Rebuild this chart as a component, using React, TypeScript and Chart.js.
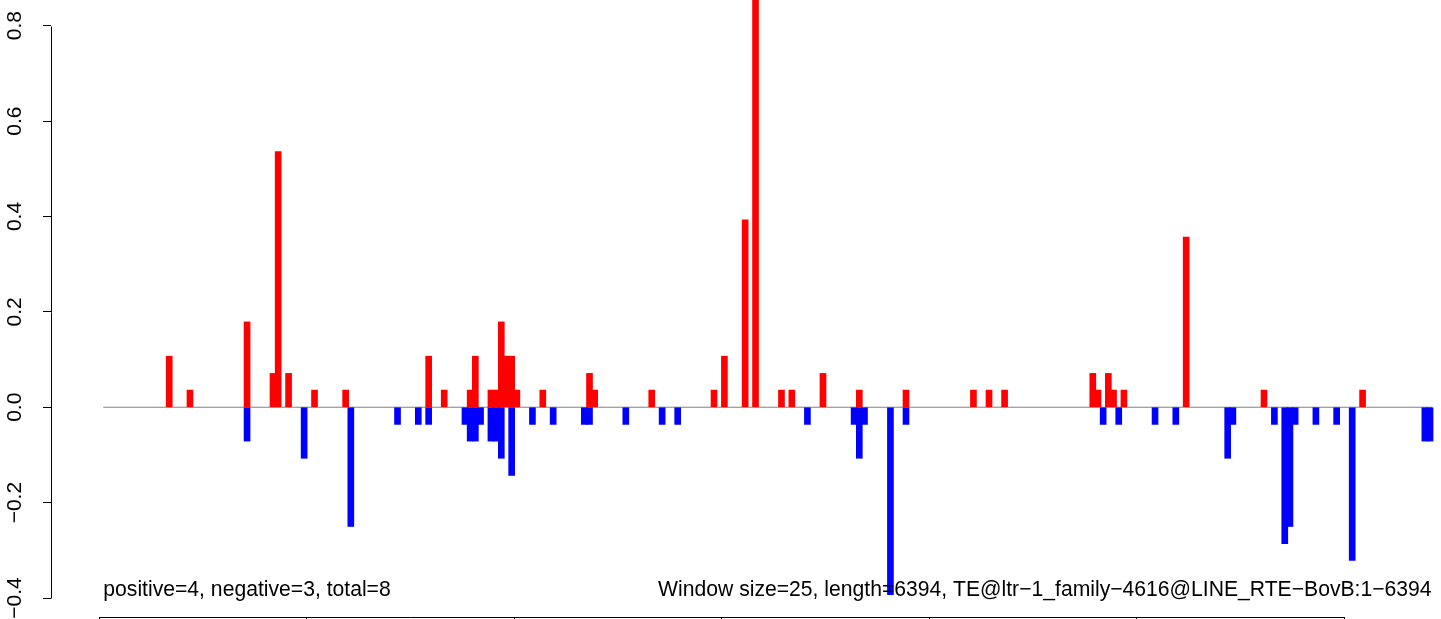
import React, { useEffect, useRef } from 'react';
import { Chart, registerables } from 'chart.js';

Chart.register(...registerables);

// ---- data ----
const WINDOW_SIZE = 25;

// window start (bp) and score of windows with positive score
const positiveStarts = [325, 425, 700, 825, 850, 900, 1025, 1175, 1575, 1650, 1775, 1800, 1875, 1900, 1925, 1950, 1975, 2000, 2125, 2350, 2375, 2650, 2950, 3000, 3100, 3150, 3275, 3325, 3475, 3650, 3875, 4200, 4275, 4350, 4775, 4800, 4850, 4875, 4925, 5225, 5600, 6075];
const positiveValues = [0.107, 0.036, 0.179, 0.071, 0.536, 0.071, 0.036, 0.036, 0.107, 0.036, 0.036, 0.107, 0.036, 0.036, 0.179, 0.107, 0.107, 0.036, 0.036, 0.071, 0.036, 0.036, 0.036, 0.107, 0.393, 0.893, 0.036, 0.036, 0.071, 0.036, 0.036, 0.036, 0.036, 0.036, 0.071, 0.036, 0.071, 0.036, 0.036, 0.357, 0.036, 0.036];

// window start (bp) and score of windows with negative score
const negativeStarts = [700, 975, 1200, 1425, 1525, 1575, 1750, 1775, 1800, 1825, 1875, 1900, 1925, 1975, 2075, 2175, 2325, 2350, 2525, 2700, 2775, 3400, 3625, 3650, 3675, 3800, 3875, 4825, 4900, 5075, 5175, 5425, 5450, 5650, 5700, 5725, 5750, 5850, 5950, 6025, 6375, 6400];
const negativeValues = [-0.071, -0.107, -0.25, -0.036, -0.036, -0.036, -0.036, -0.071, -0.071, -0.036, -0.071, -0.071, -0.107, -0.143, -0.036, -0.036, -0.036, -0.036, -0.036, -0.036, -0.036, -0.036, -0.036, -0.107, -0.036, -0.393, -0.036, -0.036, -0.036, -0.036, -0.036, -0.107, -0.036, -0.036, -0.286, -0.25, -0.036, -0.036, -0.036, -0.321, -0.071, -0.071];

const zeroLineX = [20, 6422];
const yTickValues = [-0.4, -0.2, 0, 0.2, 0.4, 0.6, 0.8];
const xTickValues = [0, 1000, 2000, 3000, 4000, 5000, 6000];

const leftNote = 'positive=4, negative=3, total=8';
const rightNote = 'Window size=25, length=6394, TE@ltr\u22121_family\u22124616@LINE_RTE\u2212BovB:1\u22126394';

const FONT = '"Liberation Sans", Arial, Helvetica, sans-serif';

const rAxesPlugin = {
  id: 'rAxes',
  afterDraw(chart: any) {
    const { ctx, chartArea } = chart;
    const x = chart.scales.x;
    const y = chart.scales.y;
    ctx.save();
    ctx.strokeStyle = '#000000';
    ctx.lineWidth = 1;
    ctx.beginPath();
    const ax = Math.round(chartArea.left) + 0.5;
    ctx.moveTo(ax, Math.round(y.getPixelForValue(yTickValues[0])) + 0.5);
    ctx.lineTo(ax, Math.round(y.getPixelForValue(yTickValues[yTickValues.length - 1])) + 0.5);
    const by = Math.round(chartArea.bottom) + 0.5;
    ctx.moveTo(x.getPixelForValue(xTickValues[0]), by);
    ctx.lineTo(x.getPixelForValue(xTickValues[xTickValues.length - 1]), by);
    ctx.stroke();

    ctx.fillStyle = '#000000';
    ctx.font = '21.15px ' + FONT;
    ctx.textBaseline = 'alphabetic';
    const ty = y.getPixelForValue(-0.395);
    ctx.textAlign = 'left';
    ctx.fillText(leftNote, x.getPixelForValue(20), ty);
    ctx.textAlign = 'right';
    ctx.fillText(rightNote, x.getPixelForValue(6420), ty);
    ctx.restore();
  },
};

export default function App() {
  const canvasRef = useRef<HTMLCanvasElement | null>(null);

  useEffect(() => {
    const canvas = canvasRef.current;
    if (!canvas) return;
    const chart = new Chart(canvas, {
      type: 'bar',
      data: {
        datasets: [
          {
            type: 'bar',
            label: 'positive',
            data: positiveStarts.map((s, i) => ({ x: s + WINDOW_SIZE / 2, y: positiveValues[i] })),
            backgroundColor: '#ff0000',
            borderWidth: 0,
            barThickness: 6,
            grouped: false,
            order: 1,
          } as any,
          {
            type: 'bar',
            label: 'negative',
            data: negativeStarts.map((s, i) => ({ x: s + WINDOW_SIZE / 2, y: negativeValues[i] })),
            backgroundColor: '#0000ff',
            borderWidth: 0,
            barThickness: 6,
            grouped: false,
            order: 1,
          } as any,
          {
            type: 'line',
            label: 'zero',
            data: zeroLineX.map((v) => ({ x: v, y: 0 })),
            borderColor: '#808080',
            borderWidth: 1,
            pointRadius: 0,
            order: 2,
          } as any,
        ],
      },
      options: {
        animation: false,
        responsive: false,
        events: [],
        layout: { padding: 0 },
        plugins: { legend: { display: false }, tooltip: { enabled: false } },
        scales: {
          x: {
            type: 'linear',
            position: 'bottom',
            min: -232.2,
            max: 6465.3,
            offset: false,
            afterBuildTicks: (scale: any) => {
              scale.ticks = xTickValues.map((v) => ({ value: v }));
            },
            afterFit: (scale: any) => {
              scale.height = 2;
              scale.paddingLeft = 0;
              scale.paddingRight = 0;
            },
            ticks: { display: false },
            grid: { offset: false, drawOnChartArea: false, drawTicks: true, tickLength: 8, color: '#000000', lineWidth: 1 },
            border: { display: false },
          },
          y: {
            type: 'linear',
            position: 'left',
            min: -0.4398,
            max: 0.8539,
            afterBuildTicks: (scale: any) => {
              scale.ticks = yTickValues.map((v) => ({ value: v }));
            },
            afterFit: (scale: any) => {
              scale.width = 51;
              scale.paddingTop = 0;
              scale.paddingBottom = 0;
            },
            ticks: {
              autoSkip: false,
              minRotation: 90,
              maxRotation: 90,
              crossAlign: 'center',
              padding: 7,
              color: '#000000',
              font: { family: FONT, size: 21 },
              callback: (v: any) => Number(v).toFixed(1).replace('-', '\u2212'),
            },
            grid: { offset: false, drawOnChartArea: false, drawTicks: true, tickLength: 8, color: '#000000', lineWidth: 1 },
            border: { display: false },
          },
        },
      } as any,
      plugins: [rAxesPlugin],
    });
    return () => chart.destroy();
  }, []);

  return (
    <div style={{ position: 'absolute', left: 0, top: 0, width: 1441, height: 619, background: '#ffffff' }}>
      <canvas ref={canvasRef} width={1441} height={619} style={{ display: 'block' }} />
    </div>
  );
}
